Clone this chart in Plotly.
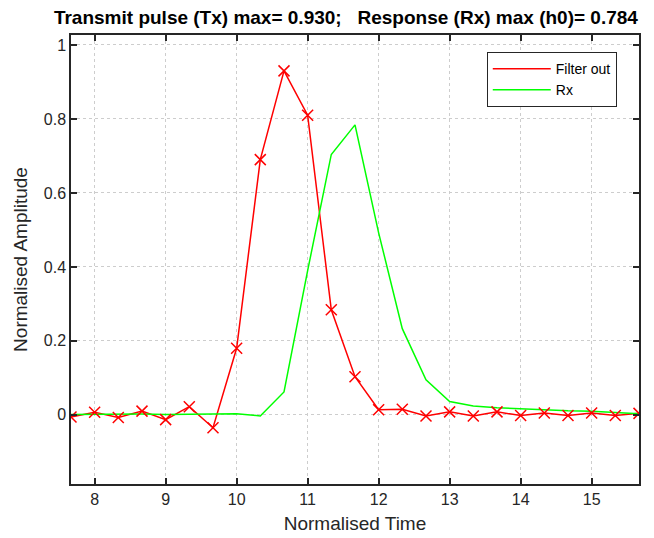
import numpy as np
import plotly.graph_objects as go

# time samples (Normalised Time), step 1/3
time = [7.667, 8.0, 8.333, 8.667, 9.0, 9.333, 9.667, 10.0, 10.333, 10.667,
        11.0, 11.333, 11.667, 12.0, 12.333, 12.667, 13.0, 13.333, 13.667,
        14.0, 14.333, 14.667, 15.0, 15.333, 15.667]

filter_out = [-0.006, 0.007, -0.007, 0.010, -0.013, 0.022, -0.035, 0.180, 0.690, 0.930,
              0.810, 0.284, 0.103, 0.014, 0.015, -0.003, 0.008, -0.003, 0.008,
              -0.002, 0.005, -0.002, 0.005, -0.002, 0.004]

rx = [0.001, 0.002, 0.001, 0.002, 0.001, 0.002, 0.002, 0.003, -0.003, 0.062,
      0.390, 0.704, 0.784, 0.492, 0.233, 0.095, 0.036, 0.024, 0.019,
      0.016, 0.013, 0.011, 0.010, 0.006, 0.003]

xticks = [8, 9, 10, 11, 12, 13, 14, 15]
yticks = [0, 0.2, 0.4, 0.6, 0.8, 1]

title_text = "Transmit pulse (Tx) max= 0.930;   Response (Rx) max (h0)= 0.784"

fig = go.Figure()
fig.add_trace(go.Scatter(x=time, y=filter_out, mode="lines", name="Filter out",
                         line=dict(color="#ff0000", width=1.5)))
fig.add_trace(go.Scatter(x=time, y=rx, mode="lines", name="Rx",
                         line=dict(color="#00ff00", width=1.5)))
fig.add_trace(go.Scatter(x=time, y=filter_out, mode="markers", showlegend=False,
                         marker=dict(symbol="x-thin", size=11, color="#ff0000",
                                     line=dict(color="#ff0000", width=1.5))))

axis_common = dict(
    showline=True, linecolor="#262626", linewidth=1.5, mirror="ticks",
    ticks="inside", ticklen=6, tickwidth=1.5, tickcolor="#262626",
    showgrid=True, gridcolor="#cdcdcd", gridwidth=1, griddash="dot",
    zeroline=False, automargin=False,
    tickfont=dict(family="Liberation Sans, Arial", size=16, color="#262626"),
)

fig.update_xaxes(range=[7.667, 15.667], tickvals=xticks,
                 title=dict(text="Normalised Time", standoff=10,
                            font=dict(family="Liberation Sans, Arial", size=19, color="#262626")),
                 **axis_common)
fig.update_yaxes(range=[-0.187, 1.027], tickvals=yticks,
                 ticktext=[str(v) if v not in (0, 1) else str(int(v)) for v in yticks],
                 title=dict(text="Normalised Amplitude", standoff=11,
                            font=dict(family="Liberation Sans, Arial", size=19, color="#262626")),
                 **axis_common)

fig.update_layout(
    width=646, height=530,
    margin=dict(l=63, r=15, t=27, b=54),
    paper_bgcolor="white", plot_bgcolor="white",
    title=dict(text="<b>" + title_text + "</b>", x=0.484, xref="paper", xanchor="center",
               y=1, yref="container", yanchor="top", pad=dict(t=3),
               font=dict(family="Liberation Sans Narrow, Liberation Sans, Arial", size=19, color="black")),
    legend=dict(x=0.732, y=0.962, xanchor="left", yanchor="top",
                bgcolor="white", bordercolor="#262626", borderwidth=1,
                itemwidth=58,
                font=dict(family="Liberation Sans, Arial", size=14, color="black"),
                tracegroupgap=0),
    showlegend=True,
)

fig.write_html("out.html")
